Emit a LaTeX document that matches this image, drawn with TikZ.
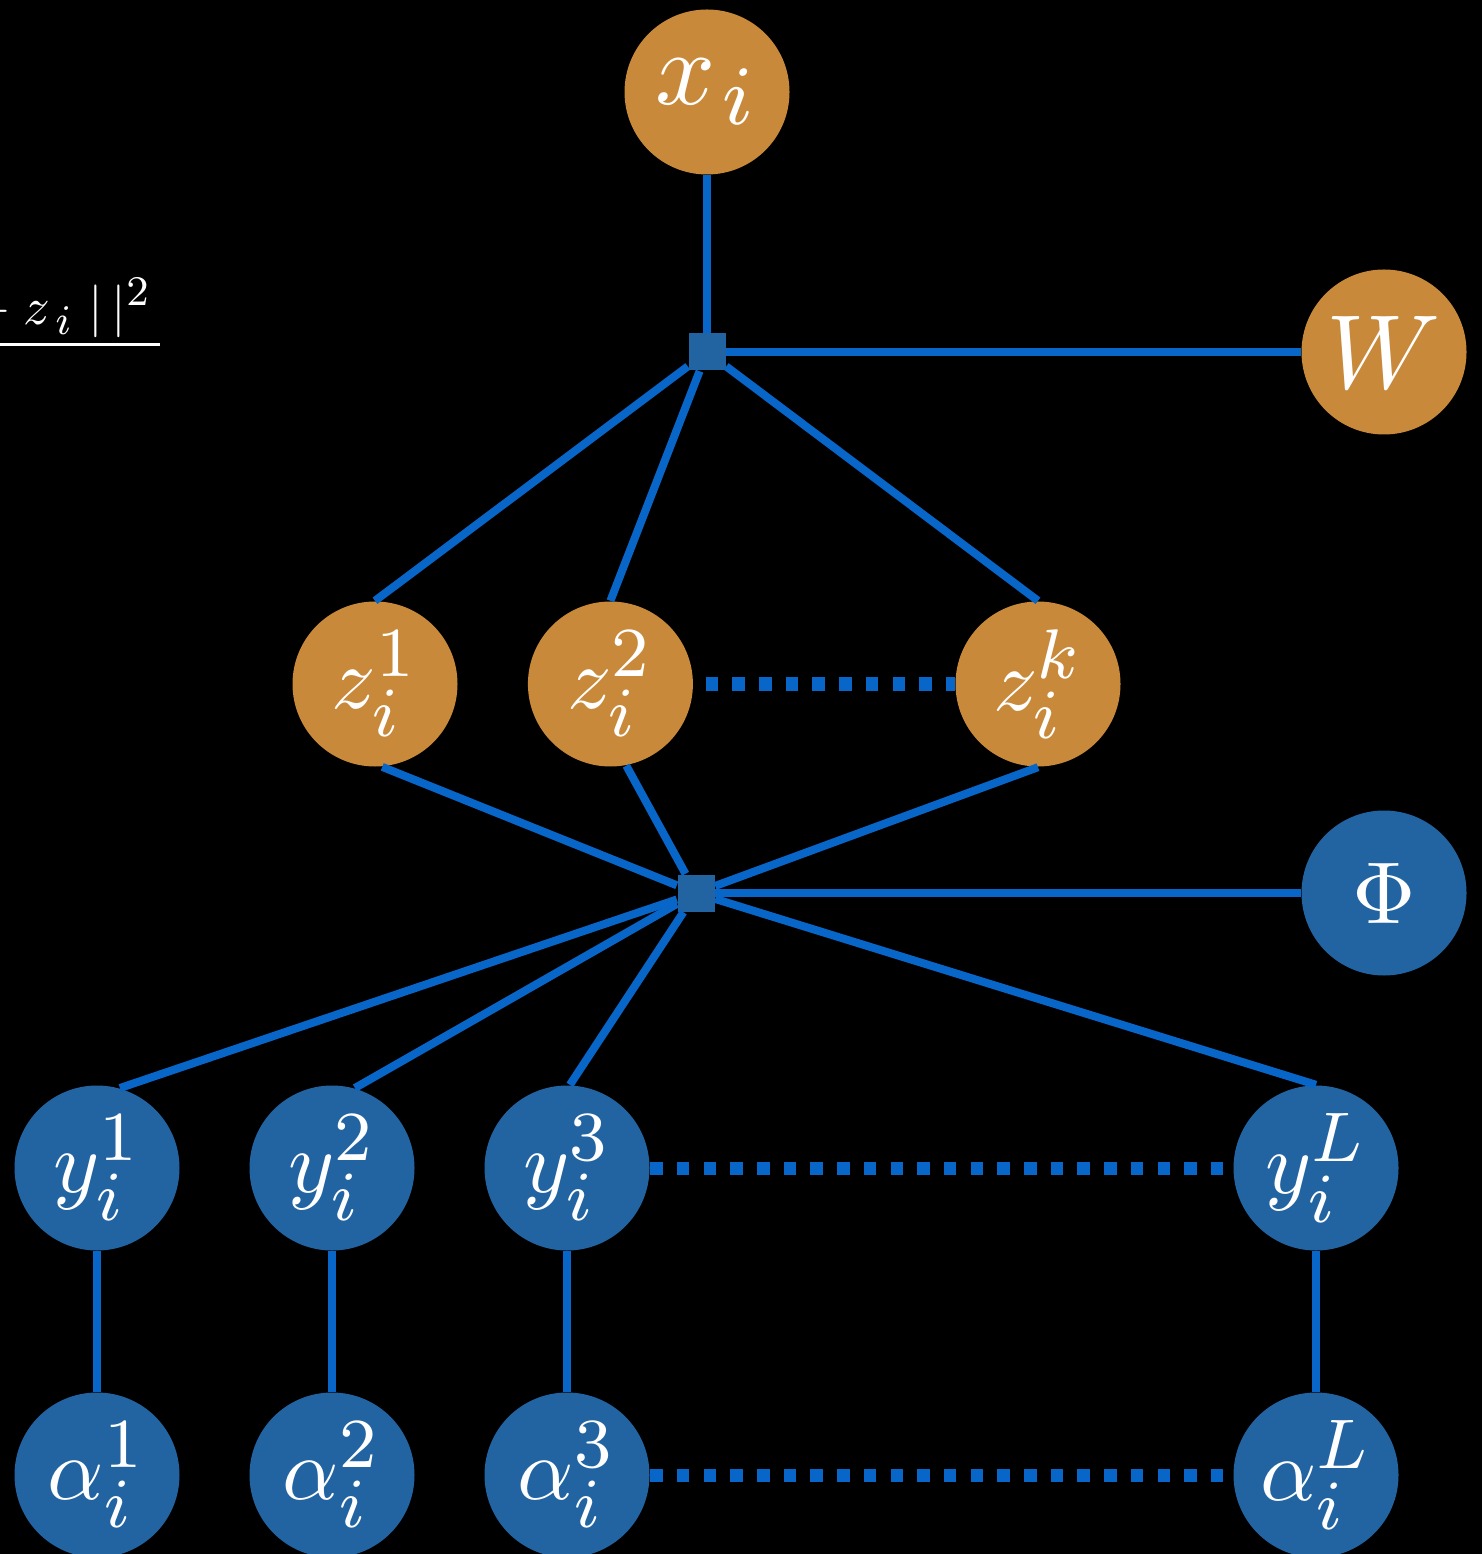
\documentclass[tikz,border=0pt]{standalone}
\usepackage{amssymb, amsmath}
\usepackage{graphicx}
\usepackage{xcolor}
\usetikzlibrary{positioning}
\usetikzlibrary{calc}

% bigger scripts than the default 0.7 ratio
\DeclareMathSizes{10}{10}{8}{6}

% large math labels, scaled up from 10pt
\newcommand{\varlabel}[2][2.5]{\scalebox{#1}{$#2$}}

\definecolor{varorange}{RGB}{200,137,58}
\definecolor{varblue}{RGB}{34,100,162}
\definecolor{edgeblue}{RGB}{8,102,200}

\tikzset{
	latent/.style={
			circle,
			fill=varorange,
			minimum size=1.65cm,
			inner sep=0pt,
			text=white
		},
	observed/.style={latent, fill=varblue},
	factor/.style={rectangle, fill=varblue, minimum size=0.37cm, inner sep=0pt},
	edge/.style={edgeblue, line width=0.08cm},
	dotline/.style={edgeblue, line width=0.13cm, dash pattern=on 0.125cm off 0.142cm}
}

\begin{document}
\begin{tikzpicture}
		% Background
		\fill[black] (0,0) rectangle (14.82,-15.54);
		\useasboundingbox (0,0) rectangle (14.82,-15.54);

		% Loss term (cut at the left)
		\node[text=white,
			inner sep=0pt,
			anchor=base east
		] (loss) at (1.52,-3.25) {\varlabel[1.5]{{}-z_{\,i}\;|\,|^2}};
		\draw[white, line width=0.03cm] (0,-3.45) -- (1.60,-3.45);

		% Top: input and dictionary
		\node[latent] (x) at (7.07,-0.92) {\varlabel[3.0]{x_{\mkern1.5mu i}}};
		\node[factor] (f1) at (7.07,-3.52) {};
		\node[latent] (W) at (13.84,-3.52) {\varlabel[3.0]{W}};

		% Codes
		\node[latent] (z1) at (3.75,-6.84) {\varlabel{z_i^1}};
		\node[latent,
			right=0.69cm of z1
		] (z2) {\varlabel{z_i^2}};
		\node[latent] (zk) at (10.38,-6.84) {\varlabel{z_i^k}};

		% Second factor and Phi
		\node[factor] (f2) at (6.96,-8.93) {};
		\node[observed] (phi) at (13.84,-8.93) {\varlabel{\Phi}};

		% Edges of the first factor
		\draw[edge] (x.south) -- (f1);
		\draw[edge] (f1) -- (W.west);
		\draw[edge] (f1) -- (z1.north);
		\draw[edge] (f1) -- (z2.north);
		\draw[edge] (f1) -- (zk.north);
		\draw[dotline, shorten <=0.12cm] (z2.east) -- (zk.west);

		% Edges of the second factor
		\draw[edge] (z1.-85) -- (f2);
		\draw[edge] (z2.-79) -- (f2);
		\draw[edge] (zk.south) -- (f2);
		\draw[edge] (f2) -- (phi.west);

		% Observations and weights
		\foreach \n/\xx/\ang in {1/0.97/74, 2/3.32/74, 3/5.67/88, L/13.16/90} {
				\node[observed] (y\n) at (\xx,-11.68) {\varlabel{y_i^{\n}}};
				\node[observed] (a\n) at (\xx,-14.75) {\varlabel{\alpha_i^{\n}}};
				\draw[edge] (y\n) -- (a\n);
				\draw[edge] (f2) -- (y\n.\ang);
			}
		\draw[dotline] (y3.east) -- (yL.west);
		\draw[dotline] (a3.east) -- (aL.west);
	\end{tikzpicture}
\end{document}
